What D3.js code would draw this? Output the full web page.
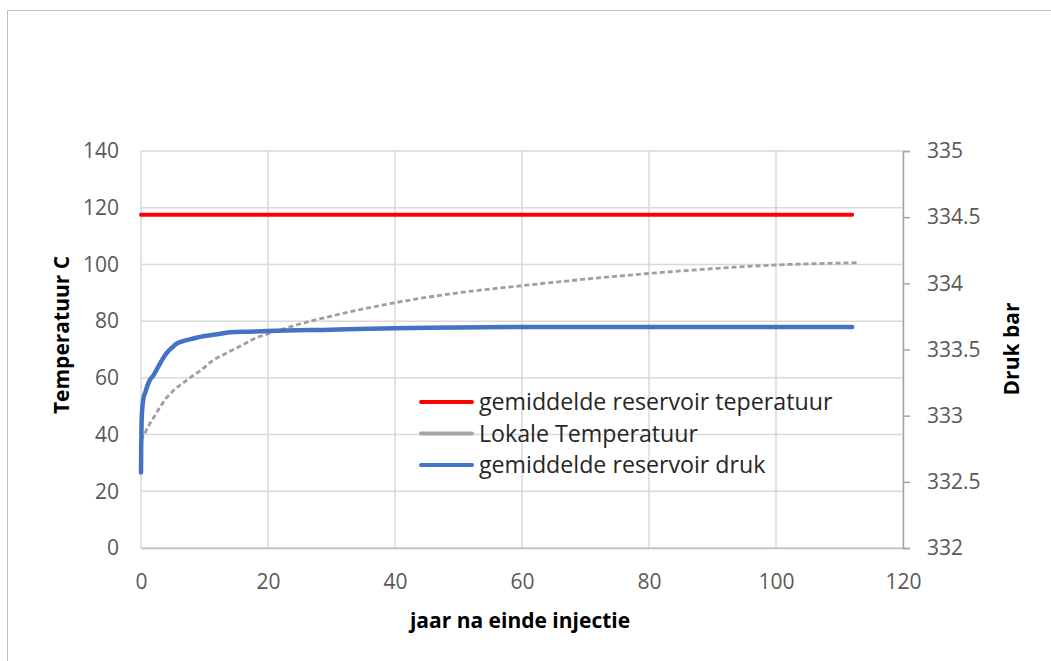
<!DOCTYPE html>
<html><head><meta charset="utf-8">
<script src="https://cdn.jsdelivr.net/npm/d3@7"></script>
<style>body{margin:0;background:#fff}svg{display:block}text{font-family:"Open Sans","Liberation Sans",sans-serif}</style>
</head><body>
<svg id="c" width="1051" height="661"></svg>
<script>
const xTicks=[0,20,40,60,80,100,120];
const leftTicks=[0,20,40,60,80,100,120,140];
const rightTicks=[332,332.5,333,333.5,334,334.5,335];
const rightTickLabels=["332","332.5","333","333.5","334","334.5","335"];

const redYears=[0,112];
const redTemp=[117.5,117.5];

const grayYears=[0,0.5,1,2,3,4,5,6.5,8,9.5,11,13.5,16,18,20,25,30,40,50,60,70,80,90,100,113];
const grayTemp=[38,40,42.3,46,49.7,52.9,55.3,58,60.5,62.8,65.6,68.8,71.6,74,75.5,79,81.8,86.5,90,92.5,94.8,96.8,98.5,99.8,100.6];

const blueYears=[0,0.03,0.08,0.15,0.35,0.7,1.4,1.9,2.6,3.3,4,4.8,5.5,6.4,8,9.8,12,14,17,20,30,40,60,80,100,112];
const bluePress=[332.57,332.75,332.92,333.02,333.12,333.18,333.27,333.3,333.36,333.42,333.47,333.51,333.54,333.56,333.58,333.60,333.615,333.63,333.635,333.64,333.65,333.66,333.67,333.67,333.67,333.67];

const legendLabels=["gemiddelde reservoir teperatuur","Lokale Temperatuur","gemiddelde reservoir druk"];
const colors=["#ff0000","#a5a5a5","#4472c4"];

const svg=d3.select("#c");
svg.append("rect").attr("x",7.5).attr("y",10.5).attr("width",1100).attr("height",700).attr("fill","none").attr("stroke","#bfbfbf");

const x=d3.scaleLinear().domain([0,120]).range([141,903]);
const yL=d3.scaleLinear().domain([0,140]).range([548,151]);
const yR=d3.scaleLinear().domain([332,335]).range([548,151]);

svg.append("g").selectAll("line").data(leftTicks).join("line")
 .attr("x1",141).attr("x2",903).attr("y1",d=>yL(d)).attr("y2",d=>yL(d))
 .attr("stroke","#d9d9d9").attr("stroke-width",1.5);
svg.append("g").selectAll("line").data(xTicks).join("line")
 .attr("y1",151).attr("y2",548).attr("x1",d=>x(d)).attr("x2",d=>x(d))
 .attr("stroke","#d9d9d9").attr("stroke-width",1.5);

const tickFont="21px";
const gx=svg.append("g").attr("transform","translate(0,548)").call(d3.axisBottom(x).tickValues(xTicks).tickSize(0).tickPadding(26));
gx.select(".domain").attr("stroke","#bfbfbf").attr("stroke-width",1.5);
gx.selectAll("text").attr("fill","#595959").style("font-size",tickFont).style("font-family","Open Sans");

const gl=svg.append("g").attr("transform","translate(141,0)").call(d3.axisLeft(yL).tickValues(leftTicks).tickSize(0).tickPadding(22));
gl.select(".domain").remove();
gl.selectAll("text").attr("fill","#595959").style("font-size",tickFont).style("font-family","Open Sans");

const gr=svg.append("g").attr("transform","translate(903,0)").call(d3.axisRight(yR).tickValues(rightTicks).tickFormat((d,i)=>rightTickLabels[i]).tickSize(7).tickSizeOuter(7).tickPadding(17));
gr.select(".domain").attr("stroke","#a6a6a6").attr("stroke-width",1.5);
gr.selectAll(".tick line").attr("stroke","#a6a6a6").attr("stroke-width",1.5);
gr.selectAll("text").attr("fill","#595959").style("font-size",tickFont).style("font-family","Open Sans");

const lineL=d3.line().x(d=>x(d[0])).y(d=>yL(d[1]));
const lineR=d3.line().x(d=>x(d[0])).y(d=>yR(d[1])).curve(d3.curveMonotoneX);
svg.append("path").datum(grayYears.map((t,i)=>[t,grayTemp[i]])).attr("d",lineL.curve(d3.curveMonotoneX))
 .attr("fill","none").attr("stroke","#9f9f9f").attr("stroke-width",2.8).attr("stroke-dasharray","5,3");
svg.append("path").datum(redYears.map((t,i)=>[t,redTemp[i]])).attr("d",d3.line().x(d=>x(d[0])).y(d=>yL(d[1])))
 .attr("fill","none").attr("stroke","#ff0000").attr("stroke-width",4).attr("stroke-linecap","round");
svg.append("path").datum(blueYears.map((t,i)=>[t,bluePress[i]])).attr("d",lineR)
 .attr("fill","none").attr("stroke","#4472c4").attr("stroke-width",4.5).attr("stroke-linecap","round").attr("stroke-linejoin","round");

svg.append("text").attr("x",520).attr("y",628).attr("text-anchor","middle").attr("font-weight","bold").attr("fill","#000").style("font-size","21px").text("jaar na einde injectie");
svg.append("text").attr("transform","translate(69,335) rotate(-90)").attr("text-anchor","middle").attr("font-weight","bold").attr("fill","#000").style("font-size","21px").text("Temperatuur C");
svg.append("text").attr("transform","translate(1019,349) rotate(-90)").attr("text-anchor","middle").attr("font-weight","bold").attr("fill","#000").style("font-size","21px").text("Druk bar");

const lg=svg.append("g");
legendLabels.forEach((lab,i)=>{
  const yy=402+i*31.5;
  lg.append("line").attr("x1",421).attr("x2",472).attr("y1",yy).attr("y2",yy).attr("stroke",colors[i]).attr("stroke-width",4).attr("stroke-linecap","round");
  lg.append("text").attr("x",479).attr("y",yy+8).attr("fill","#262626").style("font-size","23.2px").text(lab);
});
</script>
</body></html>
